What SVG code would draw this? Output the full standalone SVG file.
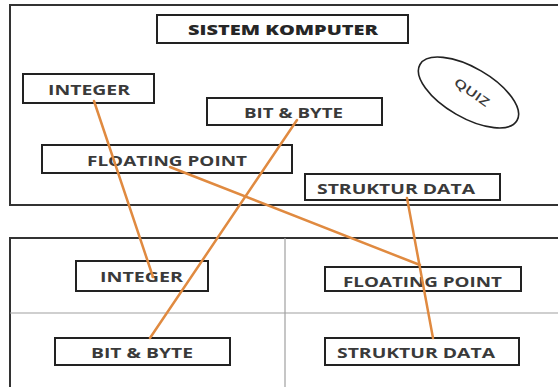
<svg xmlns="http://www.w3.org/2000/svg" width="558" height="387" viewBox="0 0 558 387">
<style>
.frame{fill:none;stroke:#333;stroke-width:2}
.div{fill:none;stroke:#a0a0a0;stroke-width:1.2}
.box{fill:#fff;stroke:#222;stroke-width:2}
.t{font-family:"Open Sans","Liberation Sans",sans-serif;font-weight:700;font-size:14px;fill:#3a3a3a;text-anchor:middle;dominant-baseline:central}
.tb{font-weight:800;fill:#262626}
.link{stroke:#e08a40;stroke-width:2.5;stroke-linecap:round;fill:none}
</style>
<rect width="558" height="387" fill="#fff"/>
<g id="frames">
<rect class="frame" x="10" y="5" width="560" height="200"/>
<rect class="frame" x="10" y="238" width="560" height="160"/>
<line class="div" x1="285" y1="238" x2="285" y2="387"/>
<line class="div" x1="10" y1="313" x2="558" y2="313"/>
</g>
<g id="sistem"><rect class="box" x="157" y="15" width="251" height="28"/><text class="t tb" x="283" y="29.5" textLength="190" lengthAdjust="spacingAndGlyphs">SISTEM KOMPUTER</text></g>
<g id="integer1"><rect class="box" x="23" y="74" width="131" height="29"/><text class="t" x="89" y="89.5" textLength="82" lengthAdjust="spacingAndGlyphs">INTEGER</text></g>
<g id="bitbyte1"><rect class="box" x="207" y="98" width="175" height="27"/><text class="t" x="293.5" y="112.5" textLength="99" lengthAdjust="spacingAndGlyphs">BIT &amp; BYTE</text></g>
<g id="floating1"><rect class="box" x="42" y="145" width="250" height="28"/><text class="t" x="167" y="160" textLength="160" lengthAdjust="spacingAndGlyphs">FLOATING POINT</text></g>
<g id="struktur1"><rect class="box" x="305" y="174" width="195" height="26"/><text class="t" x="396" y="188.5" textLength="158" lengthAdjust="spacingAndGlyphs">STRUKTUR DATA</text></g>
<g id="quiz"><ellipse cx="468.5" cy="92.5" rx="56" ry="25" transform="rotate(30 468.5 92.5)" fill="#fff" stroke="#222" stroke-width="1.6"/><text class="t" x="472" y="92" transform="rotate(35 472 92)" style="font-size:12px;font-weight:600" textLength="40" lengthAdjust="spacingAndGlyphs">QUIZ</text></g>
<g id="integer2"><rect class="box" x="76" y="261" width="132" height="30"/><text class="t" x="141.5" y="276" textLength="83" lengthAdjust="spacingAndGlyphs">INTEGER</text></g>
<g id="floating2"><rect class="box" x="325" y="267" width="196" height="24"/><text class="t" x="422.5" y="281.5" textLength="159" lengthAdjust="spacingAndGlyphs">FLOATING POINT</text></g>
<g id="bitbyte2"><rect class="box" x="55" y="338" width="175" height="27"/><text class="t" x="142" y="352.5" textLength="102" lengthAdjust="spacingAndGlyphs">BIT &amp; BYTE</text></g>
<g id="struktur2"><rect class="box" x="325" y="338" width="194" height="27"/><text class="t" x="416" y="352.5" textLength="158" lengthAdjust="spacingAndGlyphs">STRUKTUR DATA</text></g>
<g id="connectors">
<line class="link" x1="94" y1="101" x2="153" y2="277"/>
<line class="link" x1="297" y1="120" x2="150" y2="338"/>
<line class="link" x1="170" y1="167" x2="420" y2="265"/>
<line class="link" x1="407" y1="198" x2="433" y2="338"/>
</g>
</svg>
